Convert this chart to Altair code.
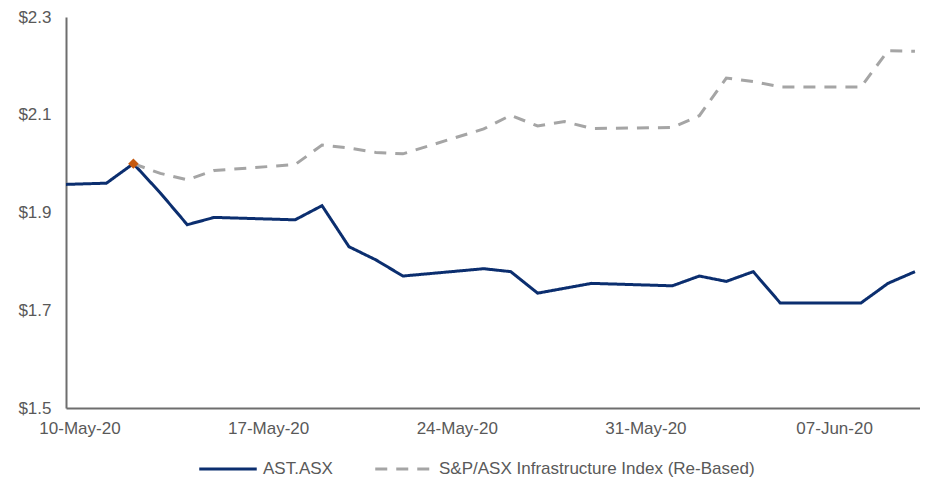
import altair as alt
import pandas as pd

ast_dates = ["2020-05-08", "2020-05-11", "2020-05-12", "2020-05-13", "2020-05-14", "2020-05-15",
             "2020-05-18", "2020-05-19", "2020-05-20", "2020-05-21", "2020-05-22",
             "2020-05-25", "2020-05-26", "2020-05-27", "2020-05-28", "2020-05-29",
             "2020-06-01", "2020-06-02", "2020-06-03", "2020-06-04", "2020-06-05",
             "2020-06-08", "2020-06-09", "2020-06-10"]
ast_values = [1.955, 1.960, 2.000, 1.940, 1.875, 1.890,
              1.885, 1.914, 1.830, 1.803, 1.770,
              1.785, 1.779, 1.735, 1.745, 1.755,
              1.750, 1.770, 1.759, 1.779, 1.715,
              1.715, 1.755, 1.779]

idx_dates = ast_dates[2:]
idx_values = [2.000, 1.980, 1.967, 1.986,
              1.998, 2.038, 2.032, 2.023, 2.020,
              2.071, 2.099, 2.077, 2.086, 2.072,
              2.074, 2.098, 2.175, 2.168, 2.157,
              2.157, 2.231, 2.230]

marker_date = ["2020-05-12"]
marker_value = [2.000]

series_names = ["AST.ASX", "S&P/ASX Infrastructure Index (Re-Based)"]
series_colors = ["#0B2E6F", "#A5A5A5"]

df = pd.concat([
    pd.DataFrame({"date": ast_dates, "value": ast_values, "series": series_names[0]}),
    pd.DataFrame({"date": idx_dates, "value": idx_values, "series": series_names[1]}),
])
mk = pd.DataFrame({"date": marker_date, "value": marker_value})

tick_dates = [alt.DateTime(year=2020, month=m, date=d, utc=True)
              for m, d in [(5, 10), (5, 17), (5, 24), (5, 31), (6, 7)]]

xscale = alt.Scale(type="utc",
                   domain=[alt.DateTime(year=2020, month=5, date=9, hours=12, utc=True),
                           alt.DateTime(year=2020, month=6, date=10, hours=4, minutes=30, utc=True)])
yscale = alt.Scale(domain=[1.5, 2.3], nice=False, zero=False)

x_axis = alt.Axis(values=tick_dates, labelExpr="utcFormat(datum.value, '%d-%b-%y')",
                  ticks=False, grid=False, labelPadding=12,
                  domainColor="#6E6E6E", domainWidth=2,
                  labelFontSize=17, labelColor="#595959", labelFont="Liberation Sans")
y_axis = alt.Axis(values=[1.5, 1.7, 1.9, 2.1, 2.3], format="$.1f",
                  ticks=False, grid=False, labelPadding=15,
                  domainColor="#6E6E6E", domainWidth=2,
                  labelFontSize=17, labelColor="#595959", labelFont="Liberation Sans")


def x_enc():
    return alt.X("date:T", scale=xscale, title=None, axis=x_axis)


def y_enc():
    return alt.Y("value:Q", scale=yscale, title=None, axis=y_axis)


lines = alt.Chart(df).mark_line(strokeWidth=3, clip=True).encode(
    x=x_enc(),
    y=y_enc(),
    color=alt.Color("series:N",
                    scale=alt.Scale(domain=series_names, range=series_colors),
                    legend=alt.Legend(title=None, orient="none", legendX=149, legendY=439,
                                      direction="horizontal", symbolType="M-2.5,0H2.5",
                                      symbolSize=529, symbolStrokeWidth=3,
                                      columnPadding=36, labelOffset=22,
                                      labelFontSize=17, labelColor="#595959",
                                      labelFont="Liberation Sans", labelLimit=500)),
    strokeDash=alt.StrokeDash("series:N",
                              scale=alt.Scale(domain=series_names, range=[[1, 0], [12, 9]]),
                              legend=None),
)

marker = alt.Chart(mk).mark_point(shape="diamond", filled=True, size=110,
                                  color="#C55A11", opacity=1).encode(
    x=x_enc(),
    y=y_enc(),
)

chart = alt.layer(lines, marker).properties(
    width=854, height=391,
    autosize=alt.AutoSizeParams(type="none"),
    padding={"left": 58, "top": 9, "right": 0, "bottom": 71},
).configure_view(stroke=None).configure_legend(padding=0)

chart.save("out.html", embed_options={"renderer": "svg", "actions": False})
